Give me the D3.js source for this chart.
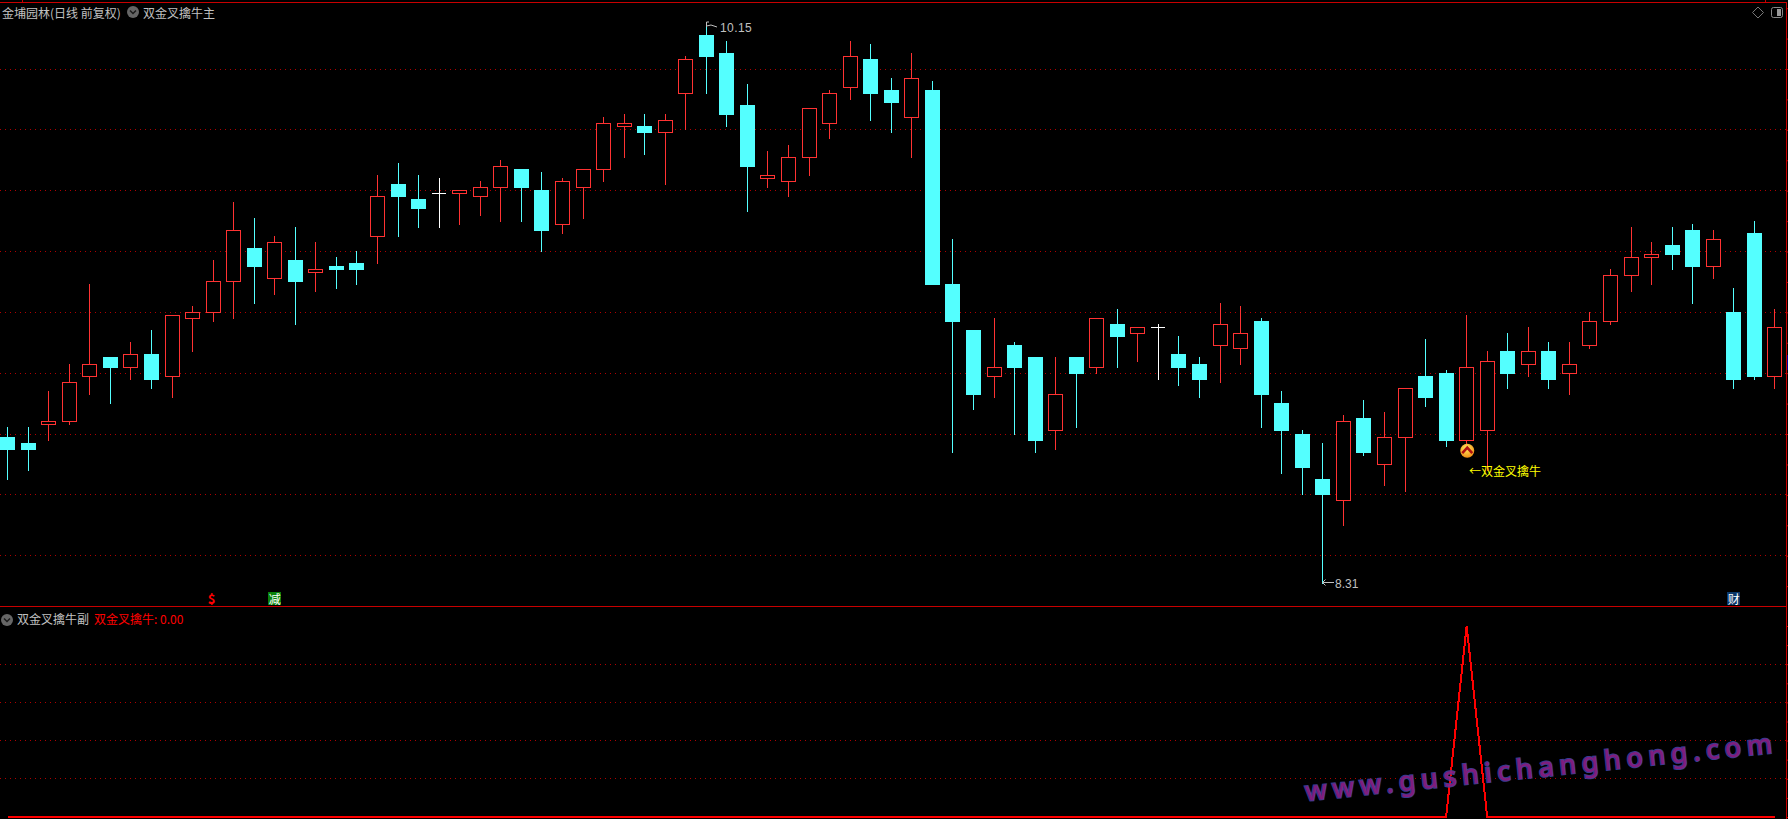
<!DOCTYPE html>
<html><head><meta charset="utf-8">
<script src="https://cdn.jsdelivr.net/npm/d3@7"></script>
<style>
html,body{margin:0;padding:0;background:#000;overflow:hidden}
svg{display:block}
text{font-family:"Noto Sans CJK SC","Noto Sans",sans-serif;font-size:12px}
.num{font-family:"Liberation Sans",sans-serif}
</style></head><body><svg id="c" width="1788" height="819"></svg>
<script>
const opens=[8.79,8.77,8.83,8.84,8.99,9.05,9.02,9.06,8.99,9.18,9.20,9.30,9.41,9.31,9.37,9.33,9.35,9.36,9.45,9.62,9.57,9.59,9.59,9.58,9.61,9.67,9.60,9.49,9.61,9.67,9.81,9.81,9.79,9.92,10.11,10.05,9.88,9.64,9.63,9.71,9.82,9.94,10.03,9.93,9.84,9.93,9.29,9.14,8.99,9.09,9.05,8.81,9.05,9.02,9.16,9.13,9.15,9.06,9.03,9.09,9.08,9.17,8.90,8.80,8.65,8.58,8.85,8.70,8.79,8.99,9.00,8.78,8.81,9.07,9.03,9.07,9.00,9.09,9.17,9.32,9.38,9.42,9.47,9.35,9.20,9.46,8.99];
const closes=[8.75,8.75,8.84,8.97,9.03,9.02,9.06,8.98,9.19,9.20,9.30,9.47,9.35,9.43,9.30,9.34,9.34,9.34,9.58,9.58,9.54,9.59,9.60,9.61,9.68,9.61,9.47,9.63,9.67,9.82,9.82,9.79,9.83,10.03,10.04,9.85,9.68,9.65,9.71,9.87,9.92,10.04,9.92,9.89,9.97,9.29,9.17,8.93,9.02,9.02,8.78,8.93,9.00,9.18,9.12,9.15,9.15,9.02,8.98,9.16,9.13,8.93,8.81,8.69,8.60,8.84,8.74,8.79,8.95,8.92,8.78,9.02,9.04,9.00,9.07,8.98,9.03,9.17,9.32,9.38,9.39,9.39,9.35,9.44,8.98,8.99,9.15];
const highs=[8.82,8.82,8.94,9.03,9.29,9.05,9.10,9.14,9.19,9.22,9.37,9.56,9.51,9.45,9.48,9.43,9.38,9.40,9.65,9.69,9.65,9.64,9.60,9.63,9.70,9.67,9.66,9.64,9.67,9.84,9.85,9.85,9.85,10.04,10.15,10.09,9.95,9.73,9.75,9.87,9.93,10.09,10.08,9.97,10.05,9.96,9.44,9.14,9.18,9.10,9.05,9.05,9.05,9.18,9.21,9.15,9.16,9.12,9.05,9.23,9.22,9.18,8.94,8.81,8.77,8.86,8.91,8.87,8.95,9.11,9.01,9.19,9.07,9.13,9.15,9.10,9.10,9.20,9.34,9.48,9.43,9.48,9.49,9.47,9.28,9.50,9.21];
const lows=[8.65,8.68,8.78,8.83,8.93,8.90,8.98,8.95,8.92,9.07,9.17,9.18,9.23,9.26,9.16,9.27,9.28,9.29,9.36,9.45,9.48,9.48,9.49,9.52,9.50,9.50,9.40,9.46,9.51,9.63,9.71,9.72,9.62,9.80,9.92,9.81,9.53,9.61,9.58,9.65,9.77,9.90,9.83,9.79,9.71,9.29,8.74,8.88,8.92,8.80,8.74,8.75,8.82,9.00,9.02,9.04,8.98,8.96,8.92,8.97,9.03,8.82,8.67,8.60,8.31,8.50,8.73,8.63,8.61,8.89,8.76,8.77,8.68,8.95,8.99,8.95,8.93,9.08,9.16,9.27,9.29,9.34,9.23,9.31,8.95,8.98,8.95];
const signal=opens.map((_,i)=>i===71?1:0);
const priceGrid=[10.0,9.8,9.6,9.4,9.2,9.0,8.8,8.6,8.4];
const signalGrid=[0.2,0.4,0.6,0.8];
const priceTicks=d3.range(8.3,10.3,0.1);
const signalTicks=d3.range(0,1.05,0.1);
const title="金埔园林(日线 前复权)", mainName="双金叉擒牛主", subName="双金叉擒牛副";
const subLegend="双金叉擒牛: 0.00", signalLabel="←双金叉擒牛", watermark="www.gushichanghong.com";
const hiLabel="10.15", loLabel="8.31";
const stamps=[{i:9.93,t:"$"},{i:13,t:"减",bg:"#0a800a"},{i:84,t:"财",bg:"#0a3768"}];

const RED="#ff3232",CY="#54ffff",GRID="#b00000",EDGE="#c80000",GR="#c0c0c0";
const svg=d3.select("#c");
svg.append("rect").attr("width",1788).attr("height",819).attr("fill","#000");
const x=d3.scaleLinear().domain([0,86]).range([7.6,1774.9]);
const y=d3.scaleLinear().domain([10,8.4]).range([69,555.72]);
const ys=d3.scaleLinear().domain([0,1]).range([817,626]);
const col=i=>Math.floor(x(i));
const cr=v=>Math.floor(v)+.5;

// grid
const grid=svg.append("g").attr("stroke",GRID).attr("stroke-dasharray","1 4");
grid.selectAll(".a").data(priceGrid).join("line").attr("x1",0).attr("x2",1786).attr("y1",d=>cr(y(d))).attr("y2",d=>cr(y(d)));
grid.selectAll(".b").data(signalGrid).join("line").attr("x1",0).attr("x2",1786).attr("y1",d=>cr(ys(d))).attr("y2",d=>cr(ys(d)));

// right axes
const axA=d3.axisRight(y).tickValues(priceTicks).tickSize(2).tickFormat("");
const axB=d3.axisRight(ys).tickValues(signalTicks).tickSize(2).tickFormat("");
[axA,axB].forEach(a=>{const g=svg.append("g").attr("transform","translate(1786,0)").call(a);
 g.selectAll("path").remove();g.selectAll("line").attr("stroke",EDGE);});

// frame
const frame=svg.append("g").attr("stroke",EDGE).attr("shape-rendering","crispEdges");
frame.append("line").attr("x1",0).attr("x2",1786).attr("y1",2.5).attr("y2",2.5);
frame.append("line").attr("x1",0).attr("x2",1786).attr("y1",606.5).attr("y2",606.5);
frame.append("line").attr("x1",1786.5).attr("x2",1786.5).attr("y1",2).attr("y2",819);
frame.append("line").attr("x1",22.5).attr("x2",22.5).attr("y1",0).attr("y2",2);
frame.append("line").attr("x1",1765.5).attr("x2",1765.5).attr("y1",0).attr("y2",2);
svg.append("rect").attr("x",1787).attr("y",355).attr("width",1).attr("height",15).attr("fill","#0000a0");

// candles
const data=opens.map((o,i)=>({i,o,c:closes[i],h:highs[i],l:lows[i]}));
const colour=d=>d.c>d.o?RED:d.c<d.o?CY:"#fff";
const g=svg.append("g").attr("shape-rendering","crispEdges");
const cs=g.selectAll("g").data(data).join("g");
cs.append("line").attr("x1",d=>col(d.i)+.5).attr("x2",d=>col(d.i)+.5)
  .attr("y1",d=>Math.floor(y(d.h))).attr("y2",d=>Math.floor(y(d.l))+1).attr("stroke",colour);
cs.filter(d=>d.c<d.o).append("rect").attr("x",d=>col(d.i)-7).attr("width",15)
  .attr("y",d=>Math.floor(y(d.o))).attr("height",d=>Math.floor(y(d.c))-Math.floor(y(d.o))+1).attr("fill",CY);
cs.filter(d=>d.c>d.o).append("rect").attr("x",d=>col(d.i)-6.5).attr("width",14)
  .attr("y",d=>cr(y(d.c))).attr("height",d=>cr(y(d.o))-cr(y(d.c))).attr("fill","#000").attr("stroke",RED);
cs.filter(d=>d.c===d.o).append("line").attr("x1",d=>col(d.i)-7).attr("x2",d=>col(d.i)+7)
  .attr("y1",d=>cr(y(d.o))).attr("y2",d=>cr(y(d.o))).attr("stroke","#fff");

// signal line
svg.append("path").datum(signal).attr("fill","none").attr("stroke","#ff0000").attr("stroke-width",2)
  .attr("shape-rendering","crispEdges")
  .attr("d",d3.line().x((d,i)=>x(i)).y(d=>ys(d)));

// watermark
svg.append("text").attr("transform","translate(1306,801) rotate(-5.9)").text(watermark)
  .style("font-family","'Noto Sans',sans-serif").style("font-size","27px").style("font-weight",500)
  .style("letter-spacing","5.6px").style("paint-order","stroke").attr("fill","#8a2088").attr("stroke","#40409c").attr("stroke-width",2)
  .attr("opacity",.92);

// headers
function txt(xp,yp,s,c,cls){return svg.append("text").attr("x",xp).attr("y",yp).attr("dominant-baseline","central").attr("fill",c).attr("class",cls||null).text(s);}
function chev(cx,cy){svg.append("circle").attr("cx",cx).attr("cy",cy).attr("r",6).attr("fill","#666");
 svg.append("path").attr("d",`M${cx-3},${cy-1.5}L${cx},${cy+1.5}L${cx+3},${cy-1.5}`).attr("fill","none").attr("stroke","#1a1a1a").attr("stroke-width",1.5);}
txt(2,12,title,GR);
chev(133,12);
txt(143,12,mainName,GR);
chev(7,620);
txt(17,618,subName,GR);
txt(94,618,subLegend,"#ff0000");

// top right icons
svg.append("path").attr("d","M1758,7L1763.5,12.5L1758,18L1752.5,12.5Z").attr("fill","none").attr("stroke","#777");
svg.append("rect").attr("x",1771.5).attr("y",7.5).attr("width",11).attr("height",10).attr("rx",2).attr("fill","#000").attr("stroke","#888");
svg.append("rect").attr("x",1777).attr("y",9).attr("width",4).attr("height",7).attr("fill","#999");

// extreme labels
const hiX=col(34),loX=col(64);
const hiY=Math.floor(y(10.15)),loY=Math.floor(y(8.31));
svg.append("path").attr("d",`M${hiX+.5},${hiY+4}V${hiY-1}H${hiX+3}M${hiX+.5},${hiY+3}L${hiX+5},${hiY+2}L${hiX+11},${hiY+4}`).attr("fill","none").attr("stroke",GR);
txt(hiX+14,hiY+5,hiLabel,GR,"num").style("letter-spacing","0.4px");
svg.append("path").attr("d",`M${loX+.5},${loY-.5}H${loX+12}M${loX+.5},${loY-.5}l3,-3M${loX+.5},${loY-.5}l3,3`).attr("fill","none").attr("stroke",GR);
txt(loX+13,loY+1,loLabel,GR,"num");

// buy marker
const defs=svg.append("defs");
const gr=defs.append("radialGradient").attr("id","coin").attr("cx","45%").attr("cy","35%").attr("r","70%");
gr.append("stop").attr("offset","0").attr("stop-color","#ffe860");
gr.append("stop").attr("offset","1").attr("stop-color","#f08a10");
const mx=x(71)+.6,my=450.7;
svg.append("circle").attr("cx",mx).attr("cy",my).attr("r",7).attr("fill","url(#coin)");
svg.append("path").attr("d",`M${mx-5},${my+2.5}L${mx},${my-3}L${mx+5},${my+2.5}`).attr("fill","none").attr("stroke","#b01010").attr("stroke-width",2.6);
txt(1469,470,signalLabel,"#ffff00");

// stamps
stamps.forEach(s=>{const cx=x(s.i);
 if(s.bg) svg.append("rect").attr("x",Math.round(cx-6.5)).attr("y",592).attr("width",13).attr("height",13).attr("fill",s.bg);
 svg.append("text").attr("x",cx).attr("y",598.5).attr("text-anchor","middle").attr("dominant-baseline","central")
  .attr("fill",s.bg?"#fff":"#ff0000").style("font-weight",s.bg?400:700).style("font-size",s.bg?"12px":"13px").text(s.t);
});
</script></body></html>
